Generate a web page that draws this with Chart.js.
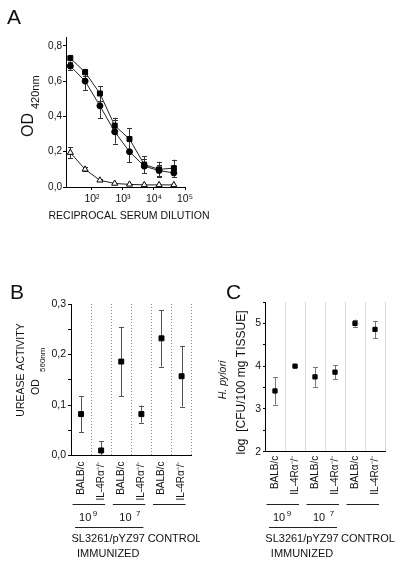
<!DOCTYPE html>
<html>
<head>
<meta charset="utf-8">
<script src="https://cdn.jsdelivr.net/npm/chart.js@4.4.1/dist/chart.umd.min.js"></script>
<style>
  body { margin: 0; background: #fff; }
  #wrap { position: relative; width: 400px; height: 563px; }
  canvas { position: absolute; }
</style>
</head>
<body>
<div id="wrap">
  <canvas id="chartA" width="400" height="240" style="left:0;top:0;width:400px;height:240px"></canvas>
  <canvas id="chartB" width="200" height="293" style="left:0;top:270px;width:200px;height:293px"></canvas>
  <canvas id="chartC" width="200" height="293" style="left:200px;top:270px;width:200px;height:293px"></canvas>
</div>
<script>
// panel A: serum titration
const dilutions = [20, 60, 180, 540, 1620, 4860, 14580, 43740];
const odSquares = [0.73, 0.65, 0.53, 0.348, 0.272, 0.127, 0.10, 0.107];
const odSquaresErr = [0.02, 0.02, 0.04, 0.045, 0.063, 0.047, 0.043, 0.048];
const odCircles = [0.685, 0.60, 0.46, 0.313, 0.20, 0.118, 0.093, 0.08];
const odCirclesErr = [0.02, 0.05, 0.07, 0.067, 0.06, 0.04, 0.03, 0.022];
const odTriangles = [0.195, 0.10, 0.038, 0.02, 0.015, 0.012, 0.012, 0.012];
const odTrianglesErr = [0.03, 0.012, 0.005, 0, 0, 0, 0, 0];
const aXTicks = [100, 1000, 10000, 100000];
const aYTicks = [0, 0.2, 0.4, 0.6, 0.8];

// panels B and C: strains
const strains = ['BALB/c', 'IL-4Rα⁻/⁻', 'BALB/c', 'IL-4Rα⁻/⁻', 'BALB/c', 'IL-4Rα⁻/⁻'];
const urease = [0.082, 0.01, 0.186, 0.082, 0.232, 0.157];
const ureaseErr = [0.036, 0.018, 0.069, 0.017, 0.056, 0.06];
const bYTicks = [0, 0.05, 0.1, 0.15, 0.2, 0.25, 0.3];
const hpylori = [3.42, 4.0, 3.75, 3.86, 5.0, 4.86];
const hpyloriErr = [0.32, 0.02, 0.23, 0.16, 0.09, 0.2];
const cYTicks = [2, 2.5, 3, 3.5, 4, 4.5, 5, 5.5];
const doseLabels = [['10', '9'], ['10', '7']];
const groupLabels = ['SL3261/pYZ97', 'CONTROL', 'IMMUNIZED'];

const FONT = '"Liberation Sans", Arial, Helvetica, sans-serif';
const SUP = { 2: '²', 3: '³', 4: '⁴', 5: '⁵' };
Chart.defaults.font.family = FONT;
Chart.defaults.color = '#111';

const errorBars = {
  id: 'errorBars',
  beforeDatasetsDraw(chart, args, opts) {
    const { ctx, chartArea } = chart;
    ctx.save();
    ctx.beginPath();
    ctx.rect(chartArea.left, chartArea.top, chartArea.width, chartArea.height);
    ctx.clip();
    ctx.strokeStyle = opts.color || '#444';
    ctx.lineWidth = 1;
    const cap = opts.cap || 2.5;
    chart.data.datasets.forEach((ds, di) => {
      if (!ds.errors) return;
      const meta = chart.getDatasetMeta(di);
      const ys = chart.scales[meta.yAxisID];
      meta.data.forEach((pt, i) => {
        const raw = ds.data[i];
        const val = typeof raw === 'object' ? raw.y : raw;
        const e = ds.errors[i];
        if (!e) return;
        const top = ys.getPixelForValue(val + e);
        const bot = ys.getPixelForValue(val - e);
        const x = Math.round(pt.x) + 0.5;
        ctx.beginPath();
        ctx.moveTo(x, top); ctx.lineTo(x, bot);
        ctx.moveTo(x - cap, Math.round(top) + 0.5); ctx.lineTo(x + cap, Math.round(top) + 0.5);
        ctx.moveTo(x - cap, Math.round(bot) + 0.5); ctx.lineTo(x + cap, Math.round(bot) + 0.5);
        ctx.stroke();
      });
    });
    ctx.restore();
  }
};

function rotated(ctx, x, y, fn) {
  ctx.save();
  ctx.translate(x, y);
  ctx.rotate(-Math.PI / 2);
  fn();
  ctx.restore();
}

// group brackets and labels under the strain axis (B and C)
function groupNotes(id) {
  return {
    id,
    afterDraw(chart) {
      const { ctx, scales: { x } } = chart;
      const px = i => x.getPixelForValue(i);
      const mid = (a, b) => (px(a) + px(b)) / 2;
      const hline = (x1, x2, y) => {
        ctx.beginPath();
        ctx.moveTo(x1, y + 0.5); ctx.lineTo(x2, y + 0.5);
        ctx.stroke();
      };
      ctx.save();
      ctx.strokeStyle = '#222';
      ctx.fillStyle = '#111';
      ctx.lineWidth = 1;
      for (let g = 0; g < 3; g++) {
        const c = mid(2 * g, 2 * g + 1);
        hline(c - 18.5, c + 14, 234);
      }
      doseLabels.forEach((d, g) => {
        let x0 = mid(2 * g, 2 * g + 1) - 12;
        ctx.font = '11px ' + FONT;
        ctx.textAlign = 'left';
        ctx.fillText(d[0], x0, 251);
        x0 += ctx.measureText(d[0]).width + (g === 0 ? 1.5 : 4.5);
        ctx.font = '8px ' + FONT;
        ctx.fillText(d[1], x0, 246);
      });
      hline(px(0) - 6, px(3) + 2, 257);
      ctx.font = '11px ' + FONT;
      ctx.textAlign = 'center';
      ctx.fillText(groupLabels[0], mid(0, 3) - 3, 272);
      ctx.fillText(groupLabels[1], mid(4, 5) + 3, 272);
      ctx.fillText(groupLabels[2], mid(0, 3) - 3, 287);
      ctx.restore();
    }
  };
}

// ---------- A ----------
new Chart(document.getElementById('chartA'), {
  type: 'line',
  data: {
    datasets: [
      {
        data: dilutions.map((d, i) => ({ x: d, y: odSquares[i] })),
        errors: odSquaresErr,
        borderColor: '#222', borderWidth: 1,
        pointStyle: 'rect', pointRadius: 3.5,
        pointBackgroundColor: '#000', pointBorderColor: '#000'
      },
      {
        data: dilutions.map((d, i) => ({ x: d, y: odCircles[i] })),
        errors: odCirclesErr,
        borderColor: '#222', borderWidth: 1,
        pointStyle: 'circle', pointRadius: 3,
        pointBackgroundColor: '#000', pointBorderColor: '#000'
      },
      {
        data: dilutions.map((d, i) => ({ x: d, y: odTriangles[i] })),
        errors: odTrianglesErr,
        borderColor: '#222', borderWidth: 1,
        pointStyle: 'triangle', pointRadius: 3.5,
        pointBackgroundColor: '#fff', pointBorderColor: '#000'
      }
    ]
  },
  options: {
    responsive: false,
    animation: false,
    events: [],
    layout: { padding: { left: 0, top: 37, right: 215, bottom: 23 } },
    plugins: {
      legend: { display: false },
      tooltip: { enabled: false },
      errorBars: { color: '#333', cap: 2.5 }
    },
    scales: {
      x: {
        type: 'logarithmic',
        min: 14.5,
        max: 100000,
        afterBuildTicks: s => { s.ticks = aXTicks.map(v => ({ value: v })); },
        afterFit: s => { s.height = 30; },
        grid: { drawOnChartArea: false, tickLength: 3, color: '#000' },
        border: { color: '#000' },
        ticks: {
          font: { size: 10.5 }, padding: 3, maxRotation: 0, autoSkip: false,
          callback: v => '10' + SUP[Math.round(Math.log10(v))]
        }
      },
      y: {
        min: 0,
        max: 0.85,
        afterBuildTicks: s => { s.ticks = aYTicks.map(v => ({ value: v })); },
        afterFit: s => { s.width = 66; },
        grid: { drawOnChartArea: false, tickLength: 3, color: '#000' },
        border: { color: '#000' },
        ticks: { font: { size: 10 }, padding: 1, callback: v => v.toFixed(1).replace('.', ',') }
      }
    }
  },
  plugins: [errorBars, {
    id: 'textA',
    afterDraw(chart) {
      const { ctx } = chart;
      ctx.save();
      ctx.fillStyle = '#111';
      ctx.font = '21px ' + FONT;
      ctx.fillText('A', 7, 24);
      rotated(ctx, 32.5, 137, () => {
        ctx.font = '16px ' + FONT;
        ctx.fillText('OD', 0, 0);
        const w = ctx.measureText('OD').width;
        ctx.font = '11px ' + FONT;
        ctx.fillText('420nm', w + 4, 6.5);
      });
      ctx.font = '10.5px ' + FONT;
      ctx.textAlign = 'center';
      ctx.fillText('RECIPROCAL SERUM DILUTION', 129, 219);
      ctx.restore();
    }
  }]
});

// ---------- B ----------
new Chart(document.getElementById('chartB'), {
  type: 'line',
  data: {
    labels: strains,
    datasets: [{
      data: urease,
      errors: ureaseErr,
      showLine: false,
      pointStyle: 'rect', pointRadius: 3.5,
      pointBackgroundColor: '#000', pointBorderColor: '#000'
    }]
  },
  options: {
    responsive: false,
    animation: false,
    events: [],
    layout: { padding: { left: 0, top: 34, right: 5, bottom: 47.5 } },
    plugins: {
      legend: { display: false },
      tooltip: { enabled: false },
      errorBars: { color: '#555', cap: 2.5 }
    },
    scales: {
      x: {
        type: 'category',
        offset: true,
        afterFit: s => { s.height = 60; },
        grid: { offset: true, drawTicks: false, color: c => c.index === 0 ? 'rgba(0,0,0,0)' : '#8c8c8c' },
        border: { color: '#000', dash: [1, 2] },
        ticks: { font: { size: 10 }, padding: 6, minRotation: 90, maxRotation: 90, autoSkip: false }
      },
      y: {
        min: 0,
        max: 0.3,
        afterBuildTicks: s => { s.ticks = bYTicks.map(v => ({ value: v })); },
        afterFit: s => { s.width = 71; },
        grid: { drawOnChartArea: false, tickLength: 3, color: '#000' },
        border: { color: '#000' },
        ticks: {
          font: { size: 10.5 }, padding: 2,
          callback: v => Math.round(v * 100) % 10 === 0 ? v.toFixed(1).replace('.', ',') : ''
        }
      }
    }
  },
  plugins: [errorBars, groupNotes('notesB'), {
    id: 'textB',
    afterDraw(chart) {
      const { ctx } = chart;
      ctx.save();
      ctx.fillStyle = '#111';
      ctx.font = '21px ' + FONT;
      ctx.fillText('B', 10, 29);
      rotated(ctx, 21, 100, () => {
        ctx.font = '10.5px ' + FONT;
        ctx.textAlign = 'center';
        ctx.textBaseline = 'middle';
        ctx.fillText('UREASE ACTIVITY', 0, 0);
      });
      rotated(ctx, 39, 125, () => {
        ctx.font = '10.5px ' + FONT;
        ctx.fillText('OD', 0, 0);
        ctx.font = '8px ' + FONT;
        ctx.fillText('560nm', 23, 6.4);
      });
      ctx.restore();
    }
  }]
});

// ---------- C ----------
new Chart(document.getElementById('chartC'), {
  type: 'line',
  data: {
    labels: strains,
    datasets: [{
      data: hpylori,
      errors: hpyloriErr,
      showLine: false,
      pointStyle: 'rect', pointRadius: 3,
      pointBackgroundColor: '#000', pointBorderColor: '#000'
    }]
  },
  options: {
    responsive: false,
    animation: false,
    events: [],
    layout: { padding: { left: 0, top: 32, right: 15, bottom: 51.3 } },
    plugins: {
      legend: { display: false },
      tooltip: { enabled: false },
      errorBars: { color: '#777', cap: 2.5 }
    },
    scales: {
      x: {
        type: 'category',
        offset: true,
        afterFit: s => { s.height = 60; },
        grid: { offset: true, drawTicks: false, color: c => c.index === 0 ? 'rgba(0,0,0,0)' : '#dcdcdc' },
        border: { color: '#000' },
        ticks: { font: { size: 10 }, padding: 4, minRotation: 90, maxRotation: 90, autoSkip: false }
      },
      y: {
        min: 2,
        max: 5.5,
        afterBuildTicks: s => { s.ticks = cYTicks.map(v => ({ value: v })); },
        afterFit: s => { s.width = 65; },
        grid: { drawOnChartArea: false, tickLength: 2, color: '#000' },
        border: { color: '#000' },
        ticks: { font: { size: 10.5 }, padding: 2, callback: v => Number.isInteger(v) ? String(v) : '' }
      }
    }
  },
  plugins: [errorBars, groupNotes('notesC'), {
    id: 'textC',
    afterDraw(chart) {
      const { ctx } = chart;
      ctx.save();
      ctx.fillStyle = '#111';
      ctx.font = '21px ' + FONT;
      ctx.fillText('C', 26, 29);
      rotated(ctx, 23, 110, () => {
        ctx.font = 'italic 10.5px ' + FONT;
        ctx.textAlign = 'center';
        ctx.textBaseline = 'middle';
        ctx.fillText('H. pylori', 0, 0);
      });
      rotated(ctx, 42, 112.5, () => {
        ctx.font = '12px ' + FONT;
        ctx.textAlign = 'center';
        ctx.textBaseline = 'middle';
        ctx.fillText('log  [CFU/100 mg TISSUE]', 0, 0);
      });
      ctx.restore();
    }
  }]
});
</script>
</body>
</html>
